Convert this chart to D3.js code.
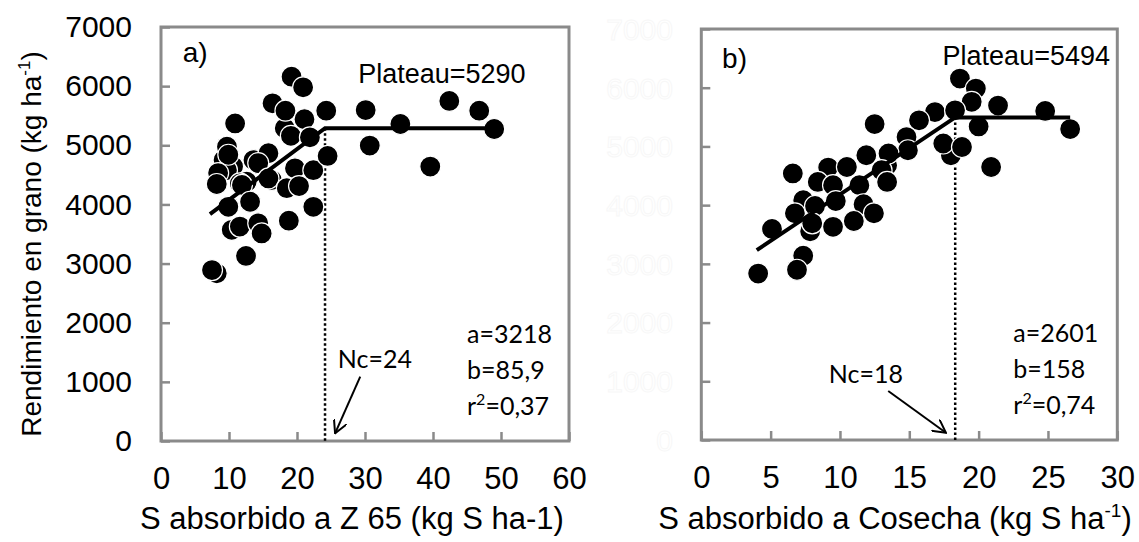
<!DOCTYPE html>
<html>
<head>
<meta charset="utf-8">
<script src="https://cdn.jsdelivr.net/npm/d3@7"></script>
<style>
  body { margin: 0; background: #fff; }
  svg { display: block; font-family: "Liberation Sans", Arial, sans-serif; }
  .tick text { fill: #000; }
  .tick line { stroke: #8a8a8a; stroke-width: 2.5; }
  .note { font-family: Lato, "Open Sans", sans-serif; font-size: 25px; }
</style>
</head>
<body>
<div id="chart"></div>
<script>
'use strict';

// ticks
const yTicks = [0, 1000, 2000, 3000, 4000, 5000, 6000, 7000];
const xTicksA = [0, 10, 20, 30, 40, 50, 60];
const xTicksB = [0, 5, 10, 15, 20, 25, 30];

// panel a) S absorbido a Z 65 vs rendimiento
const sA = [8.2, 10.4, 10.6, 9.2, 9.7, 12.6, 11.6, 13.6, 16.3, 9.7, 18.2,
  19.2, 20.9, 16.4, 18.3, 24.3, 21.1, 10.9, 19.1, 21.9, 9.9, 15.8, 14.3,
  19.7, 22.4, 24.5, 8.4, 8.2, 11.9, 15.8, 18.5, 20.3, 9.9, 13.1, 22.4,
  11.6, 14.3, 14.8, 18.8, 12.5, 7.5, 30.1, 30.7, 35.2, 42.4, 39.6, 46.8, 49.0];
const yieldA = [2835, 3570, 4640, 4750, 4580, 4385, 4355, 4750, 4415, 4975, 5290,
  6160, 5980, 5710, 5585, 5585, 5440, 5370, 5160, 5135, 4840, 4865, 4700,
  4610, 4580, 4820, 4530, 4345, 4330, 4440, 4275, 4310, 3960, 4045, 3960,
  3625, 3680, 3510, 3725, 3130, 2890, 5595, 4995, 5360, 5750, 4640, 5585, 5275];

// panel b) S absorbido a cosecha vs rendimiento
const sB = [7.85, 7.35, 13.4, 18.0, 16.85, 18.65, 19.8, 19.5, 21.4, 18.3,
  15.7, 12.5, 20.0, 24.8, 26.6, 14.8, 14.9, 17.45, 18.8, 20.9, 11.9, 13.5,
  13.0, 6.6, 9.15, 10.5, 8.4, 9.5, 11.4, 13.4, 8.2, 9.7, 11.7, 12.45, 6.75,
  8.0, 9.5, 11.0, 5.1, 7.35, 6.9, 4.1];
const yieldB = [3555, 4085, 4680, 4850, 5585, 6155, 5985, 5760, 5695, 5615,
  5445, 5380, 5340, 5605, 5295, 5160, 4935, 5050, 4990, 4650, 4850, 4880,
  4595, 4540, 4640, 4650, 4395, 4340, 4340, 4395, 3985, 4070, 4015, 3860, 3860,
  3690, 3630, 3730, 3595, 3140, 2900, 2835];

// modelo lineal-plateau
const fitA = [3218, 85.9, 5290];   // a, b, plateau
const fitB = [2601, 158, 5494];
const rangeA = [7.2, 49.4];
const rangeB = [4.0, 26.6];

const width = 1139;
const height = 542;

const svg = d3.select('#chart').append('svg')
  .attr('width', width)
  .attr('height', height);

svg.append('defs').append('marker')
  .attr('id', 'arrow')
  .attr('markerUnits', 'userSpaceOnUse')
  .attr('viewBox', '0 0 14 14')
  .attr('refX', 13).attr('refY', 7)
  .attr('markerWidth', 14).attr('markerHeight', 14)
  .attr('orient', 'auto')
  .append('path')
  .attr('d', 'M0,0L13,7L0,14')
  .attr('fill', 'none')
  .attr('stroke', '#000')
  .attr('stroke-width', 2);

const panels = [
  {
    xs: sA, ys: yieldA, fit: fitA, range: rangeA, xTicks: xTicksA,
    x: d3.scaleLinear().domain([0, 60]).range([161, 569]),
    y: d3.scaleLinear().domain([0, 7000]).range([441, 27]),
    tag: 'a)', tagPos: [3.2, 6400], platPos: [29, 6050],
    nc: 'Nc=24', ncPos: [26, 1240], arrow: [[29.3, 1090], [25.6, 130]],
    stats: ['3218', '85,9', '0,37'], statsX: 45,
    xTitle: 'S absorbido a Z 65 (kg S ha-1)', xSup: null, titleX: 352
  },
  {
    xs: sB, ys: yieldB, fit: fitB, range: rangeB, xTicks: xTicksB,
    x: d3.scaleLinear().domain([0, 30]).range([701.3, 1117.3]),
    y: d3.scaleLinear().domain([0, 7000]).range([440, 29]),
    tag: 'b)', tagPos: [1.5, 6330], platPos: [17.4, 6380],
    nc: 'Nc=18', ncPos: [9.2, 970], arrow: [[13.48, 834], [17.64, 124]],
    stats: ['2601', '158', '0,74'], statsX: 22.5,
    xTitle: 'S absorbido a Cosecha (kg S ha', xSup: '-1', titleX: 895
  }
];

panels.forEach(drawPanel);

// faint ghost labels left of panel b
const yB = panels[1].y;
svg.append('g').selectAll('text')
  .data(yTicks)
  .join('text')
  .attr('x', 673)
  .attr('y', d => yB(d))
  .attr('dy', '0.36em')
  .attr('text-anchor', 'end')
  .attr('font-size', 30)
  .attr('fill', 'none')
  .attr('stroke', '#f7f7f7')
  .attr('stroke-width', 1)
  .text(d => d);

// y axis title
const yTitle = svg.append('text')
  .attr('transform', 'translate(41,244) rotate(-90)')
  .attr('text-anchor', 'middle')
  .attr('font-size', 28)
  .text('Rendimiento en grano (kg ha');
yTitle.append('tspan').attr('font-size', 17).attr('dy', -11).text('-1');
yTitle.append('tspan').attr('dy', 11).text(')');

function drawPanel(p) {
  const g = svg.append('g');
  const [x0, x1] = p.x.range();
  const [y0, y1] = p.y.range();

  // ticks hacia dentro
  g.append('g')
    .attr('transform', `translate(0,${y0})`)
    .call(d3.axisBottom(p.x).tickValues(p.xTicks).tickFormat(d3.format('d'))
      .tickSize(-9).tickPadding(26))
    .call(a => a.select('.domain').remove())
    .call(a => a.selectAll('text').attr('font-size', 31).attr('font-family', null));

  g.append('g')
    .attr('transform', `translate(${x0},0)`)
    .call(d3.axisLeft(p.y).tickValues(yTicks).tickFormat(d3.format('d'))
      .tickSize(-9).tickPadding(29))
    .call(a => a.select('.domain').remove())
    .call(a => a.selectAll('text').attr('font-size', 30).attr('font-family', null)
      .style('display', p === panels[0] ? null : 'none'));

  g.append('rect')
    .attr('x', x0).attr('y', y1)
    .attr('width', x1 - x0).attr('height', y0 - y1)
    .attr('fill', 'none')
    .attr('stroke', '#8a8a8a')
    .attr('stroke-width', 3);

  const [a, b, plateau] = p.fit;
  const nc = (plateau - a) / b;

  // línea vertical punteada en Nc
  g.append('line')
    .attr('x1', p.x(nc)).attr('x2', p.x(nc))
    .attr('y1', p.y(plateau)).attr('y2', y0)
    .attr('stroke', '#000')
    .attr('stroke-width', 2.5)
    .attr('stroke-dasharray', '2.5,2.5');

  g.append('g').selectAll('circle')
    .data(p.xs)
    .join('circle')
    .attr('cx', d => p.x(d))
    .attr('cy', (d, i) => p.y(p.ys[i]))
    .attr('r', 10.5)
    .attr('fill', '#000')
    .attr('stroke', '#fff')
    .attr('stroke-width', 1.2);

  const fitLine = [[p.range[0], a + b * p.range[0]], [nc, plateau], [p.range[1], plateau]];
  g.append('path')
    .attr('d', d3.line().x(d => p.x(d[0])).y(d => p.y(d[1]))(fitLine))
    .attr('fill', 'none')
    .attr('stroke', '#000')
    .attr('stroke-width', 4);

  g.append('text')
    .attr('x', p.x(p.tagPos[0])).attr('y', p.y(p.tagPos[1]))
    .attr('font-size', 28)
    .text(p.tag);

  g.append('text')
    .attr('x', p.x(p.platPos[0])).attr('y', p.y(p.platPos[1]))
    .attr('font-size', 27)
    .text('Plateau=' + plateau);

  g.append('text')
    .attr('class', 'note')
    .attr('x', p.x(p.ncPos[0])).attr('y', p.y(p.ncPos[1]))
    .text(p.nc);

  g.append('line')
    .attr('x1', p.x(p.arrow[0][0])).attr('y1', p.y(p.arrow[0][1]))
    .attr('x2', p.x(p.arrow[1][0])).attr('y2', p.y(p.arrow[1][1]))
    .attr('stroke', '#000')
    .attr('stroke-width', 2)
    .attr('marker-end', 'url(#arrow)');

  const sx = p.x(p.statsX);
  g.append('text').attr('class', 'note').attr('x', sx).attr('y', y0 - 98).text('a=' + p.stats[0]);
  g.append('text').attr('class', 'note').attr('x', sx).attr('y', y0 - 62).text('b=' + p.stats[1]);
  const r2 = g.append('text').attr('class', 'note').attr('x', sx).attr('y', y0 - 26).text('r');
  r2.append('tspan').attr('font-size', 16).attr('dy', -10).text('2');
  r2.append('tspan').attr('dy', 10).text('=' + p.stats[2]);

  const t = svg.append('text')
    .attr('x', p.titleX).attr('y', 529)
    .attr('text-anchor', 'middle')
    .attr('font-size', 31)
    .text(p.xTitle);
  if (p.xSup) {
    t.append('tspan').attr('font-size', 19).attr('dy', -12).text(p.xSup);
    t.append('tspan').attr('dy', 12).text(')');
  }
}
</script>
</body>
</html>
